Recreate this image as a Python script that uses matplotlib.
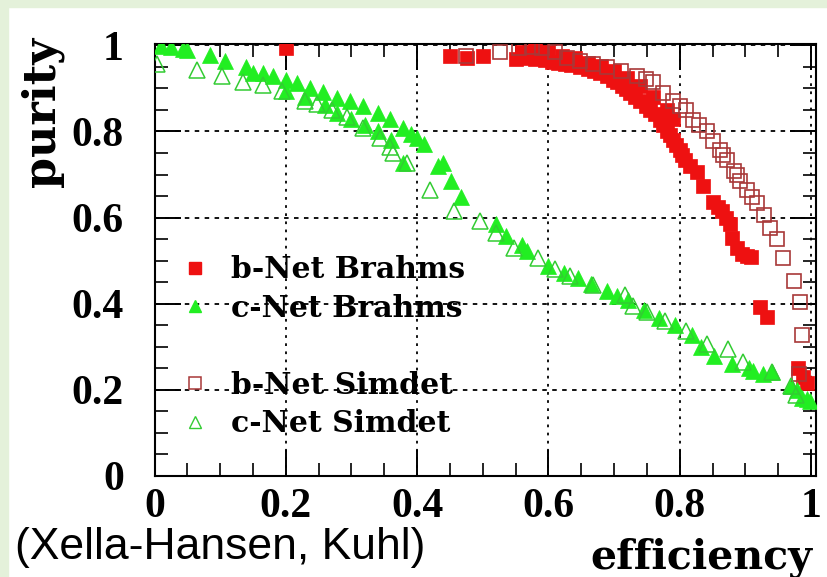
import matplotlib
matplotlib.use("Agg")
import matplotlib.pyplot as plt
from matplotlib.patches import Rectangle
from matplotlib.lines import Line2D
from matplotlib.ticker import MultipleLocator
from matplotlib.font_manager import FontProperties

# ---------------- data ----------------
bnet_brahms_x = [0.200, 0.450, 0.476, 0.500, 0.550, 0.560, 0.565, 0.580, 0.580, 0.595,
                 0.600, 0.605, 0.615, 0.620, 0.625, 0.635, 0.640, 0.648, 0.660, 0.660,
                 0.670, 0.679, 0.680, 0.690, 0.698, 0.700, 0.704, 0.712, 0.718, 0.720,
                 0.725, 0.732, 0.740, 0.740, 0.748, 0.755, 0.760, 0.762, 0.770, 0.775,
                 0.780, 0.780, 0.785, 0.790, 0.790, 0.795, 0.800, 0.804, 0.808, 0.815,
                 0.826, 0.835, 0.851, 0.858, 0.864, 0.870, 0.877, 0.880, 0.888, 0.895,
                 0.902, 0.908, 0.922, 0.933, 0.980, 0.988, 0.994]
bnet_brahms_y = [0.995, 0.975, 0.972, 0.975, 0.968, 0.985, 0.970, 0.968, 0.990, 0.966,
                 0.985, 0.962, 0.960, 0.975, 0.958, 0.955, 0.970, 0.950, 0.945, 0.960,
                 0.940, 0.935, 0.952, 0.928, 0.920, 0.940, 0.914, 0.905, 0.898, 0.925,
                 0.890, 0.880, 0.870, 0.905, 0.860, 0.850, 0.880, 0.840, 0.826, 0.815,
                 0.802, 0.850, 0.792, 0.780, 0.830, 0.768, 0.756, 0.745, 0.733, 0.720,
                 0.705, 0.674, 0.635, 0.625, 0.616, 0.600, 0.586, 0.553, 0.530, 0.516,
                 0.510, 0.507, 0.391, 0.368, 0.251, 0.228, 0.214]

cnet_brahms_x = [0.010, 0.025, 0.044, 0.050, 0.085, 0.107, 0.140, 0.150, 0.165, 0.180,
                 0.200, 0.200, 0.217, 0.230, 0.237, 0.257, 0.260, 0.278, 0.278, 0.298,
                 0.300, 0.318, 0.320, 0.340, 0.340, 0.359, 0.360, 0.379, 0.379, 0.390,
                 0.400, 0.410, 0.432, 0.440, 0.452, 0.467, 0.520, 0.536, 0.560, 0.568,
                 0.600, 0.624, 0.645, 0.665, 0.689, 0.705, 0.721, 0.745, 0.769, 0.793,
                 0.818, 0.833, 0.853, 0.880, 0.905, 0.912, 0.927, 0.940, 0.970, 0.979,
                 0.986, 0.994, 0.998]
cnet_brahms_y = [0.998, 0.997, 0.993, 0.990, 0.977, 0.965, 0.949, 0.937, 0.935, 0.930,
                 0.920, 0.895, 0.912, 0.880, 0.902, 0.891, 0.862, 0.879, 0.842, 0.872,
                 0.830, 0.860, 0.815, 0.844, 0.800, 0.830, 0.780, 0.809, 0.726, 0.795,
                 0.784, 0.772, 0.719, 0.726, 0.686, 0.647, 0.584, 0.558, 0.535, 0.523,
                 0.488, 0.472, 0.460, 0.446, 0.428, 0.418, 0.407, 0.386, 0.367, 0.351,
                 0.326, 0.300, 0.279, 0.260, 0.249, 0.244, 0.237, 0.240, 0.207, 0.198,
                 0.181, 0.178, 0.174]

bnet_simdet_x = [0.475, 0.526, 0.555, 0.575, 0.590, 0.610, 0.628, 0.648, 0.668, 0.690,
                 0.710, 0.735, 0.748, 0.760, 0.775, 0.790, 0.800, 0.810, 0.820, 0.830,
                 0.841, 0.851, 0.861, 0.866, 0.872, 0.882, 0.887, 0.892, 0.902, 0.910,
                 0.918, 0.928, 0.938, 0.948, 0.958, 0.974, 0.983, 0.986, 0.981]
bnet_simdet_y = [0.975, 0.984, 0.995, 0.997, 0.995, 0.985, 0.972, 0.965, 0.958, 0.950,
                 0.940, 0.930, 0.922, 0.914, 0.890, 0.872, 0.860, 0.849, 0.826, 0.815,
                 0.802, 0.779, 0.756, 0.745, 0.733, 0.709, 0.700, 0.686, 0.663, 0.648,
                 0.633, 0.605, 0.575, 0.550, 0.505, 0.453, 0.403, 0.326, 0.237]

cnet_simdet_x = [0.004, 0.065, 0.103, 0.135, 0.166, 0.194, 0.229, 0.247, 0.270, 0.293,
                 0.318, 0.343, 0.359, 0.364, 0.385, 0.420, 0.456, 0.496, 0.520, 0.548,
                 0.584, 0.610, 0.633, 0.668, 0.717, 0.729, 0.750, 0.777, 0.809, 0.841,
                 0.873, 0.897, 0.941, 0.970, 0.977]
cnet_simdet_y = [0.958, 0.942, 0.930, 0.914, 0.907, 0.895, 0.872, 0.865, 0.850, 0.833,
                 0.809, 0.786, 0.763, 0.749, 0.726, 0.663, 0.616, 0.591, 0.565, 0.530,
                 0.505, 0.480, 0.463, 0.442, 0.420, 0.395, 0.380, 0.360, 0.335, 0.305,
                 0.295, 0.265, 0.240, 0.207, 0.188]

series_labels = ["b-Net Brahms", "c-Net Brahms", "b-Net Simdet", "c-Net Simdet"]
tick_values = [0, 0.2, 0.4, 0.6, 0.8, 1]
tick_labels = ["0", "0.2", "0.4", "0.6", "0.8", "1"]

# ---------------- figure ----------------
W, H = 827, 577
fig = plt.figure(figsize=(W / 100, H / 100), dpi=100)
fig.patch.set_facecolor("white")
green_bg = "#e4f1da"
fig.patches.append(Rectangle((0, 1 - 7 / H), 1, 7 / H, transform=fig.transFigure,
                             color=green_bg, zorder=0))
fig.patches.append(Rectangle((0, 0), 8 / W, 1, transform=fig.transFigure,
                             color=green_bg, zorder=0))

x0, x1 = 154.5, 816.0
y_top, y_bot = 44.0, 475.5
ax = fig.add_axes([x0 / W, 1 - y_bot / H, (x1 - x0) / W, (y_bot - y_top) / H])
ax.set_xlim(0, (x1 - x0) / 656.5)
ax.set_ylim(0, (y_bot - y_top) / 430.0)

red = "#ee1111"
dark_red = "#a83838"
green = "#22ee22"
green_open = "#33cc33"

ax.plot(bnet_brahms_x, bnet_brahms_y, linestyle="none", marker="s", markersize=10.5,
        markerfacecolor=red, markeredgecolor=red, markeredgewidth=0.5, zorder=3)
ax.plot(bnet_simdet_x, bnet_simdet_y, linestyle="none", marker="s", markersize=10.5,
        markerfacecolor="none", markeredgecolor=dark_red, markeredgewidth=1.2, zorder=4)
ax.plot(cnet_brahms_x, cnet_brahms_y, linestyle="none", marker="^", markersize=11.5,
        markerfacecolor=green, markeredgecolor=green, markeredgewidth=0.5, zorder=3)
ax.plot(cnet_simdet_x, cnet_simdet_y, linestyle="none", marker="^", markersize=11.5,
        markerfacecolor="none", markeredgecolor=green_open, markeredgewidth=1.1, zorder=4)

# axes styling (ROOT-like)
for s in ax.spines.values():
    s.set_linewidth(1.5)
    s.set_color("black")
ax.set_xticks(tick_values)
ax.set_yticks(tick_values)
tick_font = FontProperties(family="Liberation Serif", weight="bold", size=30)
ax.set_xticklabels(tick_labels, fontproperties=tick_font)
ax.set_yticklabels(tick_labels, fontproperties=tick_font)
ax.xaxis.set_minor_locator(MultipleLocator(0.05))
ax.yaxis.set_minor_locator(MultipleLocator(0.05))
ax.tick_params(which="both", direction="in", top=True, right=True, color="black")
ax.tick_params(which="major", length=19, width=1.4)
ax.tick_params(which="minor", length=9.5, width=1.2)
ax.tick_params(axis="x", which="major", pad=9)
ax.tick_params(axis="y", which="major", pad=22)

ax.xaxis.grid(True, which="major", color="black", linestyle=(0, (1.5, 3)), linewidth=1.3)
ax.yaxis.grid(True, which="major", color="black", linestyle=(0, (2.5, 3)), linewidth=1.3)
ax.set_axisbelow(True)

# legend
handles = [
    Line2D([], [], linestyle="none", marker="s", markersize=9,
           markerfacecolor=red, markeredgecolor=red),
    Line2D([], [], linestyle="none", marker="^", markersize=8.5,
           markerfacecolor=green, markeredgecolor=green),
    Line2D([], [], linestyle="none"),
    Line2D([], [], linestyle="none", marker="s", markersize=9,
           markerfacecolor="none", markeredgecolor=dark_red, markeredgewidth=1.1),
    Line2D([], [], linestyle="none", marker="^", markersize=8.5,
           markerfacecolor="none", markeredgecolor=green_open, markeredgewidth=1.0),
]
labels = [series_labels[0], series_labels[1], " ", series_labels[2], series_labels[3]]
leg = ax.legend(handles, labels, loc="upper left", bbox_to_anchor=(0.0393, 0.511),
                frameon=False, borderpad=0, borderaxespad=0, handlelength=1.0,
                handletextpad=0.7, labelspacing=0.32,
                prop={"family": "DejaVu Serif", "weight": "bold", "size": 21.5})
leg.set_zorder(5)

# labels
fig.text(42 / W, 1 - 112 / H, "purity", rotation=90, ha="center", va="center",
         fontfamily="DejaVu Serif", fontweight="bold", fontsize=32)
fig.text(812 / W, 1 - 568 / H, "efficiency", ha="right", va="baseline",
         fontfamily="DejaVu Serif", fontweight="bold", fontsize=29.5)
fig.text(15 / W, 1 - 559 / H, "(Xella-Hansen, Kuhl)", ha="left", va="baseline",
         fontfamily="Liberation Sans", fontsize=32)

fig.savefig("out.png", dpi=100, facecolor=fig.get_facecolor())
